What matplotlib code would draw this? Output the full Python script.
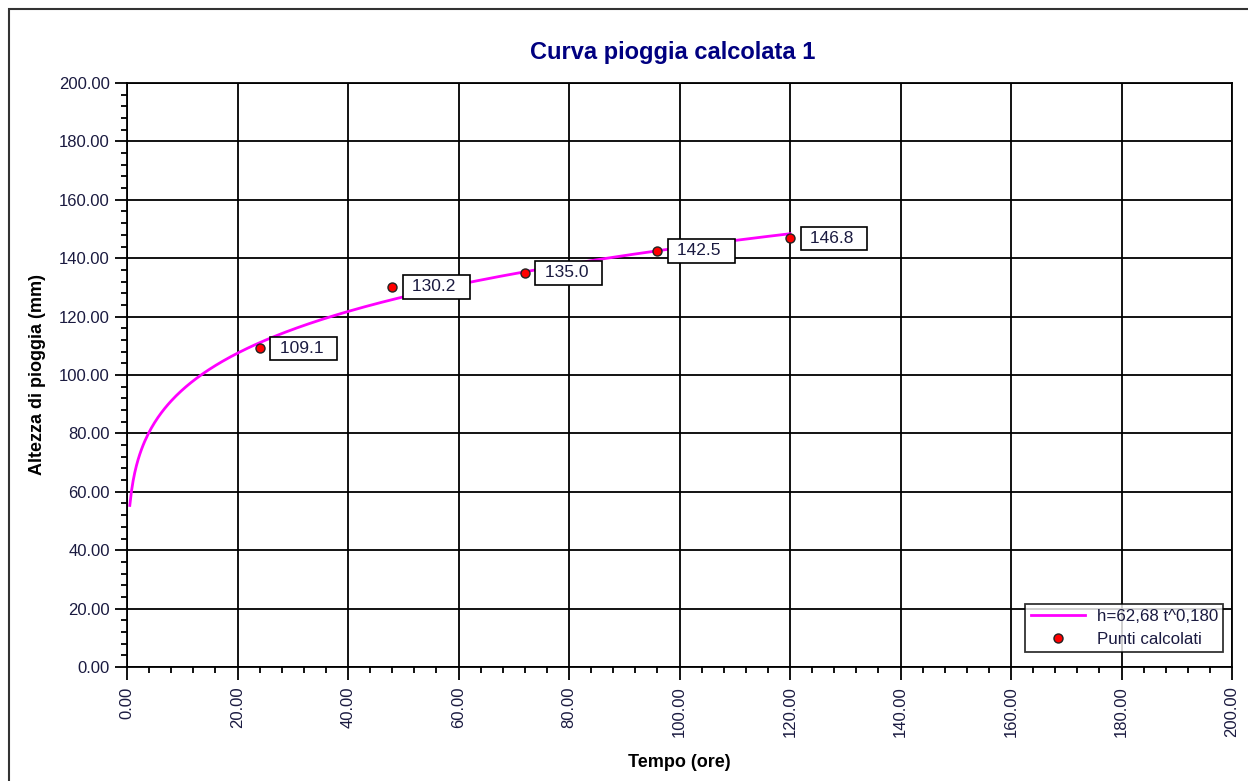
import matplotlib; matplotlib.use('Agg')  # noqa: E702
import matplotlib.pyplot as plt
from matplotlib.ticker import MultipleLocator, FormatStrFormatter
from matplotlib.patches import Rectangle
import numpy as np

plt.rcParams['font.family'] = ['Liberation Sans', 'DejaVu Sans']

# fitted curve h = A * t^B (coefficients from the legend)
COEF_A = 62.68
COEF_B = 0.180
T_START, T_END = 0.5, 120.0

# calculated points
t_pts = [24, 48, 72, 96, 120]
h_pts = [109.1, 130.2, 135.0, 142.5, 146.8]

TEXT_COL = '#1a1a40'

fig = plt.figure(figsize=(12.48, 7.81), dpi=100)
ax = fig.add_axes([0.1018, 0.146, 0.8854, 0.7477])

# outer frame of the picture
fig.patches.append(Rectangle((9 / 1248, -0.1), 1.2, 1 - 9 / 781 + 0.1,
                             transform=fig.transFigure, fill=False,
                             edgecolor='#333333', linewidth=1.5))

t_curve = np.linspace(T_START, T_END, 400)
h_curve = COEF_A * t_curve ** COEF_B
ax.plot(t_curve, h_curve, color='#ff00ff', linewidth=2, label='h=62,68 t^0,180', zorder=4)
ax.plot(t_pts, h_pts, linestyle='none', marker='o', markersize=6.5,
        markerfacecolor='#ff0000', markeredgecolor='#222222', markeredgewidth=1,
        label='Punti calcolati', zorder=5)

for t, h in zip(t_pts, h_pts):
    ax.annotate(f' {h:.1f}  ', (t, h), xytext=(15, 0), textcoords='offset pixels',
                ha='left', va='center', fontsize=12.5, color=TEXT_COL,
                bbox=dict(boxstyle='square,pad=0.25', facecolor='white',
                          edgecolor='black', linewidth=1.2), zorder=6)

ax.set_xlim(0, 200)
ax.set_ylim(0, 200)
ax.xaxis.set_major_locator(MultipleLocator(20))
ax.xaxis.set_minor_locator(MultipleLocator(4))
ax.yaxis.set_major_locator(MultipleLocator(20))
ax.yaxis.set_minor_locator(MultipleLocator(4))
ax.xaxis.set_major_formatter(FormatStrFormatter('%.2f'))
ax.yaxis.set_major_formatter(FormatStrFormatter('%.2f'))
ax.grid(True, which='major', color='black', linewidth=1.3)
ax.tick_params(which='major', direction='out', length=9, width=1.3,
               labelsize=12, labelcolor=TEXT_COL)
ax.tick_params(which='minor', direction='out', length=4, width=1.3)
ax.tick_params(axis='x', which='major', labelrotation=90, pad=5)
for lab in ax.get_xticklabels():
    lab.set_va('top')
for sp in ax.spines.values():
    sp.set_linewidth(1.3)

ax.set_title('Curva pioggia calcolata 1', fontsize=17, fontweight='bold',
             color='#000080', pad=17, x=0.494)
ax.set_xlabel('Tempo (ore)', fontsize=13, fontweight='bold', labelpad=12)
ax.set_ylabel('Altezza di pioggia (mm)', fontsize=13, fontweight='bold', labelpad=9)

leg = ax.legend(loc='lower right', fontsize=12.2, frameon=True, fancybox=False,
                edgecolor='black', borderpad=0.3, handlelength=3.2, handletextpad=0.7,
                bbox_to_anchor=(0.9918, 0.026), labelspacing=0.45, borderaxespad=0)
leg.get_frame().set_linewidth(1.3)
for txt in leg.get_texts():
    txt.set_color(TEXT_COL)

fig.savefig('out.png', dpi=100)
